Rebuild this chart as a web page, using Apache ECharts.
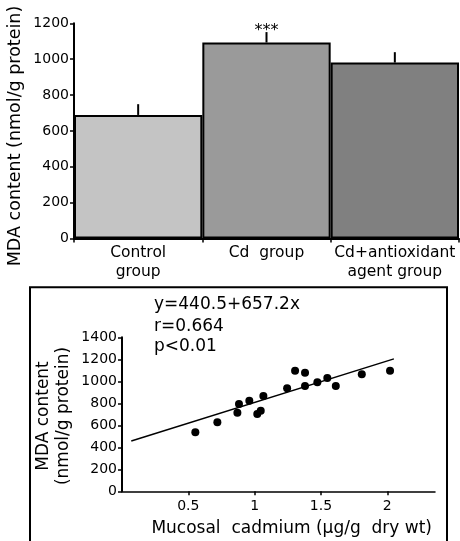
<!DOCTYPE html>
<html>
<head>
<meta charset="utf-8">
<script src="https://cdn.jsdelivr.net/npm/echarts@6/dist/echarts.min.js"></script>
<style>html,body{margin:0;padding:0;background:#fff}#c{width:460px;height:541px}</style>
</head>
<body>
<div id="c"></div>
<script>
// ---- Top panel data ----
var groups = ['Control\ngroup', 'Cd  group', 'Cd+antioxidant\nagent group'];
var mdaMean = [689, 1093, 981];
var mdaErr = [60, 58, 58];
var sigMarks = ['', '***', ''];
var barColors = ['#c4c4c4', '#9a9a9a', '#808080'];
var topYTicks = {min: 0, max: 1200, step: 200};

// ---- Bottom panel data ----
var cdX = [0.553, 0.719, 0.870, 0.882, 0.960, 1.020, 1.046, 1.066, 1.245, 1.305, 1.380, 1.380, 1.473, 1.548, 1.612, 1.808, 2.021];
var mdaY = [536, 627, 715, 794, 824, 703, 733, 866, 936, 1096, 1078, 957, 991, 1030, 957, 1064, 1096];
var fitX = [0.07, 2.05];
var fitY = [457, 1204];
var botXTicks = [0.5, 1, 1.5, 2];
var botYTicks = {min: 0, max: 1400, step: 200};
var statsText = ['y=440.5+657.2x', 'r=0.664', 'p<0.01'];

var FONT = 'DejaVu Sans';
var chart = echarts.init(document.getElementById('c'), null, {renderer: 'canvas'});

var barData = mdaMean.map(function (v, i) {
  return {value: v, itemStyle: {color: barColors[i]}};
});
var errData = mdaMean.map(function (v, i) { return [i, v, v + mdaErr[i], sigMarks[i]]; });
var scatterData = cdX.map(function (x, i) { return [x, mdaY[i]]; });
var fitData = fitX.map(function (x, i) { return [x, fitY[i]]; });
function plain(v) { return String(v); }

var option = {
  backgroundColor: '#fff',
  animation: false,
  textStyle: {fontFamily: FONT, color: '#000'},
  grid: [
    {left: 74, top: 23.3, width: 385, height: 215.2, containLabel: false, outerBoundsMode: 'none'},
    {left: 122, top: 337.3, width: 313, height: 154, containLabel: false, outerBoundsMode: 'none'}
  ],
  xAxis: [
    {
      gridIndex: 0, type: 'category', data: groups, boundaryGap: true,
      axisLine: {lineStyle: {color: '#000', width: 2}},
      axisTick: {show: true, alignWithLabel: false, length: 4, lineStyle: {color: '#000', width: 1.5}},
      axisLabel: {fontFamily: FONT, fontSize: 15.5, color: '#000', lineHeight: 19, margin: 5, interval: 0}
    },
    {
      gridIndex: 1, type: 'value', min: 0, max: 2.36,
      splitLine: {show: false},
      axisLine: {onZero: false, lineStyle: {color: '#000', width: 1.5}},
      axisTick: {show: true, length: 4, customValues: botXTicks, lineStyle: {color: '#000', width: 1.5}},
      axisLabel: {fontFamily: FONT, fontSize: 14, color: '#000', margin: 8, customValues: botXTicks, formatter: plain}
    }
  ],
  yAxis: [
    {
      gridIndex: 0, type: 'value', min: topYTicks.min, max: topYTicks.max, interval: topYTicks.step,
      splitLine: {show: false},
      axisLine: {show: true, lineStyle: {color: '#000', width: 2}},
      axisTick: {show: true, length: 4, lineStyle: {color: '#000', width: 1.5}},
      axisLabel: {fontFamily: FONT, fontSize: 14, color: '#000', margin: 5, formatter: plain}
    },
    {
      gridIndex: 1, type: 'value', min: botYTicks.min, max: botYTicks.max, interval: botYTicks.step,
      splitLine: {show: false},
      axisLine: {show: true, lineStyle: {color: '#000', width: 2}},
      axisTick: {show: true, length: 4, lineStyle: {color: '#000', width: 1.5}},
      axisLabel: {fontFamily: FONT, fontSize: 14, color: '#000', margin: 5, formatter: plain}
    }
  ],
  series: [
    {
      type: 'bar', xAxisIndex: 0, yAxisIndex: 0, data: barData,
      barWidth: '100%', barGap: '0%', barCategoryGap: '0%',
      itemStyle: {borderColor: '#000', borderWidth: 2}
    },
    {
      type: 'custom', xAxisIndex: 0, yAxisIndex: 0, data: errData, z: 5,
      renderItem: function (params, api) {
        var base = api.coord([api.value(0), api.value(1)]);
        var top = api.coord([api.value(0), api.value(2)]);
        var children = [{
          type: 'line',
          shape: {x1: base[0], y1: base[1], x2: top[0], y2: top[1]},
          style: {stroke: '#000', lineWidth: 2}
        }];
        var mark = sigMarks[params.dataIndex];
        if (mark) {
          children.push({
            type: 'text',
            style: {text: mark, x: top[0], y: top[1] - 1.5, align: 'center', verticalAlign: 'middle',
              font: '16px "' + FONT + '"', fill: '#000'}
          });
        }
        return {type: 'group', children: children};
      }
    },
    {
      type: 'line', xAxisIndex: 1, yAxisIndex: 1, data: fitData,
      symbol: 'none', lineStyle: {color: '#000', width: 1.5}
    },
    {
      type: 'scatter', xAxisIndex: 1, yAxisIndex: 1, data: scatterData,
      symbol: 'circle', symbolSize: 8, itemStyle: {color: '#000', opacity: 1}
    }
  ],
  graphic: [
    {type: 'text', x: 15, y: 136, rotation: Math.PI / 2, style: {
      text: 'MDA content (nmol/g protein)', font: '17.5px "' + FONT + '"', fill: '#000',
      align: 'center', verticalAlign: 'middle'}},
    {type: 'rect', shape: {x: 30, y: 287.3, width: 417, height: 270}, style: {fill: 'none', stroke: '#000', lineWidth: 2}, z: -1},
    {type: 'text', x: 43.3, y: 416, rotation: Math.PI / 2, style: {
      text: 'MDA content', font: '17px "' + FONT + '"', fill: '#000',
      align: 'center', verticalAlign: 'middle'}},
    {type: 'text', x: 63.3, y: 416, rotation: Math.PI / 2, style: {
      text: '(nmol/g protein)', font: '17px "' + FONT + '"', fill: '#000',
      align: 'center', verticalAlign: 'middle'}},
    {type: 'text', x: 291.7, y: 528.3, style: {
      text: 'Mucosal  cadmium (µg/g  dry wt)', font: '17px "' + FONT + '"', fill: '#000',
      align: 'center', verticalAlign: 'middle'}},
    {type: 'text', x: 154, y: 304.3, style: {text: statsText[0], font: '17px "' + FONT + '"', fill: '#000', align: 'left', verticalAlign: 'middle'}},
    {type: 'text', x: 154, y: 326.7, style: {text: statsText[1], font: '17px "' + FONT + '"', fill: '#000', align: 'left', verticalAlign: 'middle'}},
    {type: 'text', x: 154, y: 346.7, style: {text: statsText[2], font: '17px "' + FONT + '"', fill: '#000', align: 'left', verticalAlign: 'middle'}}
  ]
};
chart.setOption(option);
</script>
</body>
</html>
